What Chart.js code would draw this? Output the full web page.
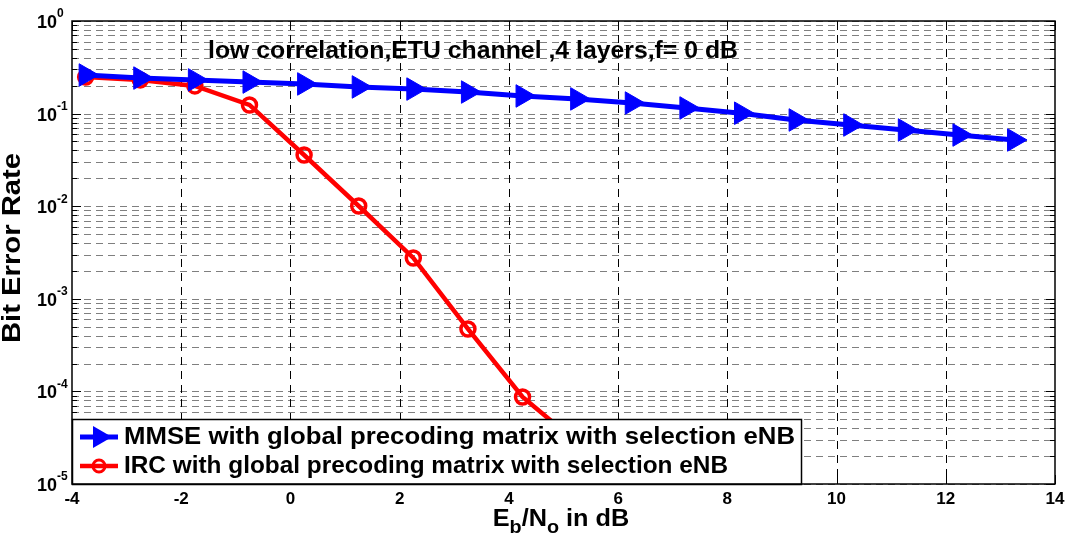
<!DOCTYPE html>
<html>
<head>
<meta charset="utf-8">
<style>
  html, body { margin: 0; padding: 0; background: #fff; }
  #wrap { width: 1069px; height: 541px; position: relative; }
</style>
<script src="https://cdn.jsdelivr.net/npm/chart.js@4/dist/chart.umd.min.js"></script>
</head>
<body>
<div id="wrap"><canvas id="berChart" width="1069" height="541"></canvas></div>
<script>
// --- data ---
const ebno = [-3.75, -2.75, -1.75, -0.75, 0.25, 1.25, 2.25, 3.25, 4.25,
              5.25, 6.25, 7.25, 8.25, 9.25, 10.25, 11.25, 12.25, 13.25];
const mmseBer = [0.261, 0.242, 0.231, 0.219, 0.209, 0.194, 0.184, 0.171, 0.155,
                 0.144, 0.130, 0.115, 0.101, 0.0853, 0.0753, 0.0665, 0.0587, 0.0519];
const ircBer = [0.248, 0.231, 0.199, 0.124, 0.0357, 0.01005, 0.00276, 0.000472, 0.000087,
                0.000028];
const xTicks = [-4, -2, 0, 2, 4, 6, 8, 10, 12, 14];
const yDecades = [-5, -4, -3, -2, -1, 0];
const seriesNames = ['MMSE with global precoding matrix with selection eNB',
                     'IRC with global precoding matrix with selection eNB'];
const plotTitle = 'low correlation,ETU channel ,4 layers,f= 0 dB';

const FONT = '"Liberation Sans", Arial, Helvetica, sans-serif';

const toPoints = (xs, ys) => ys.map((y, i) => ({ x: xs[i], y: y }));

// the reference font runs wider than Liberation Sans, so stretch text to a width
const fillStretched = (ctx, text, left, y, width) => {
    const w = ctx.measureText(text).width;
    ctx.save();
    ctx.translate(left, y);
    ctx.scale(width / w, 1);
    ctx.textAlign = 'left';
    ctx.fillText(text, 0, 0);
    ctx.restore();
};

// draws grid, frame, ticks, labels, title and the boxed legend (MATLAB look)
const matlabAxes = {
    id: 'matlabAxes',
    beforeDatasetsDraw(chart) {
        const ctx = chart.ctx;
        const xs = chart.scales.x, ys = chart.scales.y;
        const a = chart.chartArea;
        ctx.save();
        // horizontal grid: every 1..9 x decade, gray dashed
        ctx.strokeStyle = '#7f7f7f';
        ctx.lineWidth = 1;
        ctx.setLineDash([7, 5]);
        yDecades.forEach(d => {
            for (let m = 1; m <= 9; m++) {
                if (d === 0 && m > 1) break;
                const py = Math.round(ys.getPixelForValue(m * Math.pow(10, d))) + 0.5;
                ctx.beginPath();
                ctx.moveTo(a.left, py);
                ctx.lineTo(a.right, py);
                ctx.stroke();
            }
        });
        // vertical grid, black dashed
        ctx.strokeStyle = '#000';
        ctx.setLineDash([8, 6]);
        xTicks.slice(1, -1).forEach(v => {
            const px = Math.round(xs.getPixelForValue(v)) + 0.5;
            ctx.beginPath();
            ctx.moveTo(px, a.top);
            ctx.lineTo(px, a.bottom);
            ctx.stroke();
        });
        ctx.restore();
    },
    afterDatasetsDraw(chart) {
        const ctx = chart.ctx;
        const xs = chart.scales.x, ys = chart.scales.y;
        const a = chart.chartArea;
        ctx.save();
        ctx.setLineDash([]);
        ctx.strokeStyle = '#000';
        ctx.lineWidth = 1;

        // ticks inside the box
        yDecades.forEach(d => {
            for (let m = 1; m <= 9; m++) {
                if (d === 0 && m > 1) break;
                const py = Math.round(ys.getPixelForValue(m * Math.pow(10, d))) + 0.5;
                const len = m === 1 ? 9 : 5;
                ctx.beginPath();
                ctx.moveTo(a.left, py); ctx.lineTo(a.left + len, py);
                ctx.moveTo(a.right, py); ctx.lineTo(a.right - len, py);
                ctx.stroke();
            }
        });
        xTicks.forEach(v => {
            const px = Math.round(xs.getPixelForValue(v)) + 0.5;
            ctx.beginPath();
            ctx.moveTo(px, a.top); ctx.lineTo(px, a.top + 9);
            ctx.moveTo(px, a.bottom); ctx.lineTo(px, a.bottom - 9);
            ctx.stroke();
        });

        // title inside the plot
        ctx.fillStyle = '#000';
        ctx.font = 'bold 23px ' + FONT;
        ctx.textBaseline = 'alphabetic';
        fillStretched(ctx, plotTitle, 208, 58, 530);

        // legend box
        const lx = a.left, ly = 419, lw = 729, lh = a.bottom - 419;
        ctx.fillStyle = '#fff';
        ctx.fillRect(lx, ly, lw, lh);
        ctx.lineWidth = 1.5;
        ctx.strokeRect(lx + 0.5, ly + 0.5, lw, lh);
        const ds = chart.data.datasets;
        [437, 466].forEach((ry, i) => {
            const d = ds[i];
            ctx.strokeStyle = d.borderColor;
            ctx.lineWidth = d.borderWidth;
            ctx.beginPath();
            ctx.moveTo(80, ry); ctx.lineTo(118, ry);
            ctx.stroke();
            if (i === 0) {
                ctx.fillStyle = d.pointBackgroundColor;
                ctx.beginPath();
                ctx.moveTo(93, ry - 11); ctx.lineTo(112, ry); ctx.lineTo(93, ry + 11);
                ctx.closePath();
                ctx.fill();
            } else {
                ctx.lineWidth = 3;
                ctx.beginPath();
                ctx.arc(99, ry, 6, 0, Math.PI * 2);
                ctx.stroke();
            }
            ctx.fillStyle = '#000';
            ctx.font = 'bold 23px ' + FONT;
            ctx.textBaseline = 'middle';
            fillStretched(ctx, seriesNames[i], 124, ry + 1, i === 0 ? 671 : 604);
        });

        // frame
        ctx.strokeStyle = '#000';
        ctx.lineWidth = 1.5;
        ctx.strokeRect(a.left, a.top, a.right - a.left, a.bottom - a.top);

        // x tick labels
        ctx.fillStyle = '#000';
        ctx.font = 'bold 17px ' + FONT;
        ctx.textAlign = 'center';
        ctx.textBaseline = 'middle';
        xTicks.forEach(v => {
            ctx.fillText(String(v), xs.getPixelForValue(v), a.bottom + 15);
        });

        // y tick labels 10^n
        yDecades.forEach(d => {
            const py = ys.getPixelForValue(Math.pow(10, d));
            ctx.font = 'bold 18px ' + FONT;
            ctx.textAlign = 'right';
            ctx.textBaseline = 'middle';
            ctx.fillText('10', 57, py + 2);
            ctx.font = 'bold 12px ' + FONT;
            ctx.textAlign = 'left';
            ctx.fillText(String(d), 57, py - 7);
        });

        // x axis title E_b/N_o in dB
        ctx.textBaseline = 'alphabetic';
        ctx.textAlign = 'left';
        const parts = [['E', 0], ['b', 7], ['/N', 0], ['o', 7], [' in dB', 0]];
        const big = 'bold 23px ' + FONT, small = 'bold 18px ' + FONT;
        const sx = 1.1;
        let total = 0;
        parts.forEach(p => { ctx.font = p[1] ? small : big; total += ctx.measureText(p[0]).width * sx; });
        let cx = 561 - total / 2;
        parts.forEach(p => {
            ctx.font = p[1] ? small : big;
            const w = ctx.measureText(p[0]).width;
            fillStretched(ctx, p[0], cx, 526 + p[1], w * sx);
            cx += w * sx;
        });

        // y axis title
        ctx.save();
        ctx.translate(13, 248);
        ctx.rotate(-Math.PI / 2);
        ctx.font = 'bold 25px ' + FONT;
        ctx.textBaseline = 'middle';
        fillStretched(ctx, 'Bit Error Rate', -95, 0, 190);
        ctx.restore();

        ctx.restore();
    }
};

const ctx = document.getElementById('berChart').getContext('2d');
new Chart(ctx, {
    type: 'line',
    data: {
        datasets: [
            {
                label: seriesNames[0],
                data: toPoints(ebno, mmseBer),
                borderColor: '#0000ff',
                borderWidth: 5,
                pointStyle: 'triangle',
                rotation: 90,
                pointRadius: 13,
                pointBackgroundColor: '#0000ff',
                pointBorderColor: '#0000ff',
                pointBorderWidth: 1,
                tension: 0
            },
            {
                label: seriesNames[1],
                data: toPoints(ebno, ircBer),
                borderColor: '#ff0000',
                borderWidth: 4.5,
                pointStyle: 'circle',
                pointRadius: 7,
                pointBackgroundColor: 'rgba(255,255,255,0)',
                pointBorderColor: '#ff0000',
                pointBorderWidth: 3.5,
                tension: 0
            }
        ]
    },
    options: {
        responsive: false,
        animation: false,
        events: [],
        layout: { padding: { left: 72, right: 13, top: 21, bottom: 57 } },
        plugins: {
            legend: { display: false },
            tooltip: { enabled: false }
        },
        scales: {
            x: { type: 'linear', min: -4, max: 14, display: false },
            y: { type: 'logarithmic', min: 1e-5, max: 1, display: false }
        }
    },
    plugins: [matlabAxes]
});
</script>
</body>
</html>
